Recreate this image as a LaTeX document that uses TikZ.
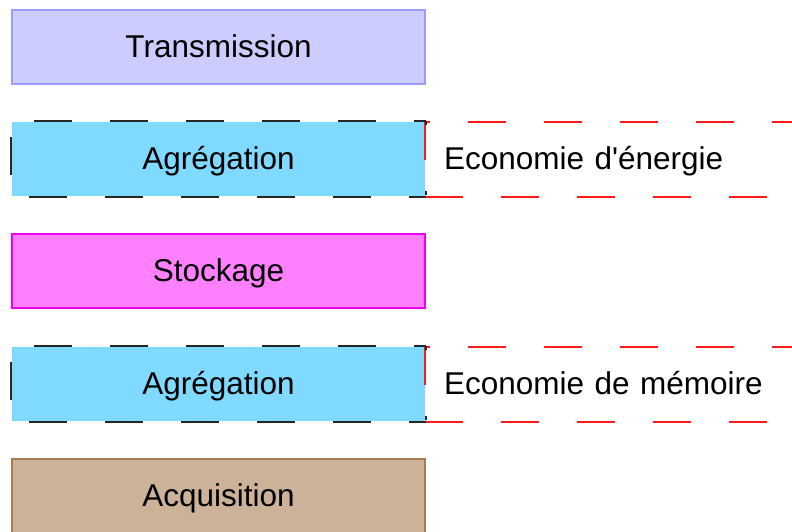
\documentclass[tikz,border=0pt]{standalone}
\usepackage{fontspec}
\setmainfont{Liberation Sans}[Ligatures=TeXOff]
\usetikzlibrary{positioning}
\definecolor{transfill}{HTML}{CCCCFF}
\definecolor{transline}{HTML}{9C9CFF}
\definecolor{aggfill}{HTML}{80D9FF}
\definecolor{stockfill}{HTML}{FF80FF}
\definecolor{stockline}{HTML}{F000F0}
\definecolor{acqfill}{HTML}{CBB298}
\definecolor{acqline}{HTML}{A67C52}
\definecolor{saving}{HTML}{FF1A1A}

\begin{document}
\begin{tikzpicture}[x=1pt, y=-1pt,
  label text/.style={font=\fontsize{31.5}{36}\selectfont, text height=22.6pt, text depth=2.6pt},
  layer/.style={label text, minimum width=413pt, minimum height=74pt, inner sep=0pt, line width=1.5pt},
  gain/.style={label text, minimum height=75pt, inner xsep=19pt, inner ysep=0pt,
    text width=345pt, align=left},
  blackdash/.style={line width=1.6pt, black!85, dash pattern=on 38pt off 38pt},
  reddash/.style={line width=1.6pt, saving, dash pattern=on 38pt off 38pt}]
  \useasboundingbox (0,0) rectangle (792,531);

  % Layers
  \node[layer, fill=transfill, draw=transline] (trans) at (218.5,47) {Transmission};
  \node[layer, fill=aggfill] (agg1) at (218.5,159) {Agrégation};
  \node[layer, fill=stockfill, draw=stockline] (stock) at (218.5,271) {Stockage};
  \node[layer, fill=aggfill] (agg2) at (218.5,384) {Agrégation};
  \node[layer, fill=acqfill, draw=acqline] (acq) at (218.5,496) {Acquisition};

  % Savings
  \node[gain] (energy) at (616.5,159.5) {Economie d'énergie};
  \node[gain] (memory) at (616.5,384.5) {Economie de mémoire};
  \foreach \s in {energy,memory}
    \draw[reddash] (\s.north west) -- (\s.south west) -- (\s.south east) -- (\s.north east) -- cycle;

  % Dashed aggregation borders
  \foreach \a in {agg1,agg2} {
    \draw[blackdash, dash phase=53pt] (\a.north west) -- (\a.north east);
    \draw[blackdash, dash phase=58pt] (\a.south west) -- (\a.south east);
    \draw[blackdash, dash phase=60pt] (\a.north west) -- (\a.south west);
    \draw[blackdash, dash pattern=on 4pt off 66pt] (\a.north east) -- (\a.south east);
  }
\end{tikzpicture}
\end{document}
